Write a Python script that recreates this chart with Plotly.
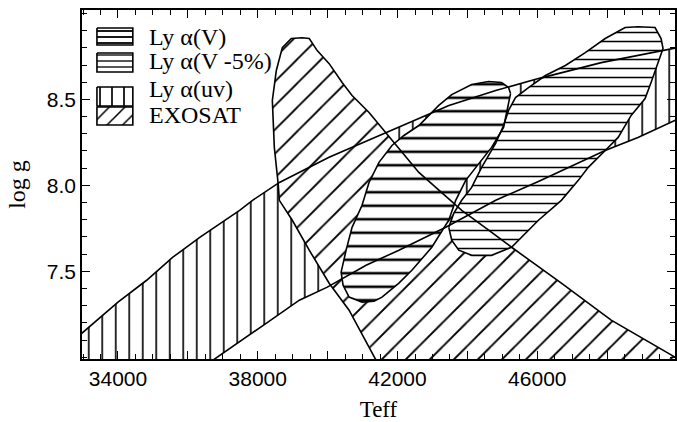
import plotly.graph_objects as go

# ---------------- data (Teff [K], log g) ----------------
uv_upper_teff = [32340, 32970, 34000, 34820, 35570, 36340, 37480, 37850, 38620, 40040,
                 41750, 42610, 43470, 44810, 46030, 47830, 49540, 50600]
uv_upper_logg = [7.03, 7.141, 7.321, 7.448, 7.582, 7.698, 7.855, 7.913, 8.017, 8.163,
                 8.314, 8.389, 8.465, 8.552, 8.621, 8.714, 8.784, 8.825]
uv_lower_teff = [50880, 49940, 48880, 47940, 46030, 44810, 43380, 42040, 41100, 39990,
                 39190, 38250, 36710, 35770]
uv_lower_logg = [8.465, 8.377, 8.279, 8.203, 8.023, 7.913, 7.756, 7.623, 7.535, 7.408,
                 7.332, 7.199, 6.984, 6.85]

exosat_teff = [41612, 41383, 40613, 40043, 39473, 38988, 38617, 38588, 38474, 38417,
               38531, 38703, 38959, 39273, 39473, 39701, 40043, 40414, 40699, 41184,
               41669, 42040, 42610, 43181, 43837, 44607, 45263, 46688, 48114, 49939,
               50595, 50595, 41612]
exosat_logg = [6.897, 6.984, 7.274, 7.431, 7.623, 7.797, 7.913, 8.000, 8.221, 8.494,
               8.668, 8.801, 8.854, 8.859, 8.854, 8.784, 8.708, 8.598, 8.523, 8.424,
               8.308, 8.215, 8.075, 7.971, 7.855, 7.739, 7.640, 7.431, 7.216, 7.001,
               6.920, 6.80, 6.80]

lyaV_teff = [45234, 45177, 45034, 44692, 44321, 43950, 43665, 43465, 42981, 42410,
             42040, 41555, 41327, 40984, 40614, 40442, 40385, 40528, 40699, 40984,
             41184, 41469, 41840, 42182, 42610, 42895, 43180, 43551, 44121, 44606,
             44977, 45177, 45234]
lyaV_logg = [8.534, 8.476, 8.337, 8.221, 8.128, 8.029, 7.913, 7.797, 7.640, 7.506,
             7.431, 7.350, 7.326, 7.321, 7.350, 7.419, 7.495, 7.623, 7.756, 7.884,
             8.017, 8.134, 8.232, 8.290, 8.348, 8.406, 8.465, 8.528, 8.587, 8.604,
             8.598, 8.569, 8.534]

lyaV5_teff = [43466, 43551, 43751, 44121, 44692, 45262, 46032, 46688, 47173, 47458,
              47943, 48314, 48685, 49084, 49255, 49455, 49598, 49541, 49369, 48884,
              48513, 47943, 47373, 46802, 46232, 45747, 45376, 45177, 45034, 44806,
              44407, 44121, 43836, 43608, 43466]
lyaV5_logg = [7.756, 7.681, 7.623, 7.593, 7.593, 7.640, 7.797, 7.913, 8.029, 8.105,
              8.203, 8.279, 8.407, 8.505, 8.598, 8.714, 8.796, 8.854, 8.918, 8.923,
              8.918, 8.854, 8.772, 8.697, 8.639, 8.569, 8.511, 8.436, 8.348, 8.244,
              8.105, 7.988, 7.913, 7.837, 7.756]

legend_labels = ["Ly \u03b1(V)", "Ly \u03b1(V -5%)", "Ly \u03b1(uv)", "EXOSAT"]
x_tickvals = [34000, 36000, 38000, 40000, 42000, 44000, 46000, 48000]
x_ticktext = ["34000", "", "38000", "", "42000", "", "46000", ""]
y_tickvals = [7.5, 8.0, 8.5]
y_ticktext = ["7.5", "8.0", "8.5"]

SERIF = "Liberation Serif"
SANS = "Liberation Sans"

def pat(shape, size, sol):
    return dict(shape=shape, size=size, solidity=sol, fgcolor="black",
                bgcolor="white", fillmode="replace")

fig = go.Figure()

# uv band fill
fig.add_trace(go.Scatter(
    x=uv_upper_teff + uv_lower_teff + [32300],
    y=uv_upper_logg + uv_lower_logg + [6.5],
    fill="toself", fillcolor="white", fillpattern=pat("|", 13.5, 0.12),
    mode="none", hoverinfo="skip"))
# EXOSAT
fig.add_trace(go.Scatter(x=exosat_teff, y=exosat_logg, fill="toself", fillcolor="white",
                         fillpattern=pat("/", 17, 0.11), mode="none", hoverinfo="skip"))
# Ly alpha (V)
fig.add_trace(go.Scatter(x=lyaV_teff, y=lyaV_logg, fill="toself", fillcolor="white",
                         fillpattern=pat("-", 13.5, 0.19), mode="none", hoverinfo="skip"))
# Ly alpha (V -5%)
fig.add_trace(go.Scatter(x=lyaV5_teff, y=lyaV5_logg, fill="toself", fillcolor="white",
                         fillpattern=pat("-", 9, 0.17), mode="none", hoverinfo="skip"))

# outlines on top
for xs, ys in [(uv_upper_teff, uv_upper_logg), (uv_lower_teff, uv_lower_logg),
               (exosat_teff, exosat_logg), (lyaV_teff, lyaV_logg), (lyaV5_teff, lyaV5_logg)]:
    fig.add_trace(go.Scatter(x=xs, y=ys, mode="lines", line=dict(color="black", width=1.6),
                             hoverinfo="skip"))

# ---------------- legend (drawn on an overlay pixel frame) ----------------
box_x0, box_x1 = 97, 133
box_rows = [(28, 45), (53, 72), (87, 106), (107, 125)]
box_pats = [pat("-", 6, 0.3), pat("-", 6, 0.22), pat("|", 12, 0.14), pat("/", 11, 0.14)]
text_y = [37, 61, 89, 115]
for (y0, y1), p, lab, ty in zip(box_rows, box_pats, legend_labels, text_y):
    fig.add_trace(go.Scatter(
        x=[box_x0, box_x1, box_x1, box_x0, box_x0], y=[y0, y0, y1, y1, y0],
        xaxis="x2", yaxis="y2", fill="toself", fillcolor="white", fillpattern=p,
        mode="lines", line=dict(color="black", width=1.6), hoverinfo="skip"))
    fig.add_annotation(x=147, y=ty, xref="x2", yref="y2", text=lab, showarrow=False,
                       xanchor="left", yanchor="middle",
                       font=dict(family=SERIF, size=24, color="black"))

axis_common = dict(showline=True, linecolor="black", linewidth=1.6, mirror="allticks",
                   ticks="inside", ticklen=8, tickwidth=1.3, tickcolor="black",
                   showgrid=False, zeroline=False,
                   tickfont=dict(family=SANS, size=21, color="black"))

fig.update_layout(
    width=677, height=422,
    margin=dict(l=82, r=0, t=10, b=63),
    paper_bgcolor="white", plot_bgcolor="white",
    showlegend=False,
    xaxis=dict(range=[32970, 49940], tickmode="array", tickvals=x_tickvals,
               ticktext=x_ticktext,
               minor=dict(tickmode="linear", tick0=33000, dtick=500, ticks="inside",
                          ticklen=5, tickwidth=1.2, tickcolor="black", showgrid=False),
               title=dict(text="Teff", font=dict(family=SERIF, size=23, color="black"),
                          standoff=14),
               **axis_common),
    yaxis=dict(range=[6.99, 9.02], tickmode="array", tickvals=y_tickvals,
               ticktext=y_ticktext,
               minor=dict(tickmode="linear", tick0=7.0, dtick=0.1, ticks="inside",
                          ticklen=5, tickwidth=1.2, tickcolor="black", showgrid=False),
               title=dict(text="log g", font=dict(family=SERIF, size=24, color="black"),
                          standoff=14),
               **axis_common),
    xaxis2=dict(overlaying="x", range=[82, 677], visible=False, fixedrange=True),
    yaxis2=dict(overlaying="y", range=[359, 10], visible=False, fixedrange=True),
)

fig.write_html("out.html")
